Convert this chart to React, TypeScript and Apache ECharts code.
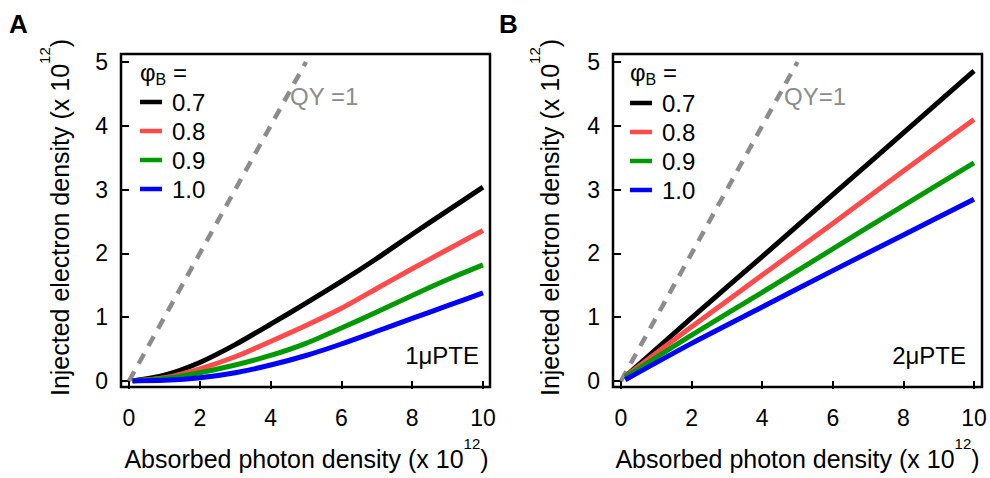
import React, { useEffect, useRef } from 'react';
import * as echarts from 'echarts';

const FONT = '"Liberation Sans", Arial, Helvetica, sans-serif';

// ---- data ----
const PHI_NAMES = ['0.7', '0.8', '0.9', '1.0'];
const COLORS = ['#000000', '#ff4b4b', '#009a00', '#0000ff'];

// Panel A (1 μPTE)
const X_A = [0.1, 1, 2, 3, 4, 5, 6, 7, 8, 9, 10];
const A_07 = [0, 0.09, 0.29, 0.57, 0.89, 1.22, 1.56, 1.92, 2.3, 2.67, 3.04];
const A_08 = [0, 0.05, 0.19, 0.38, 0.62, 0.87, 1.14, 1.45, 1.76, 2.06, 2.36];
const A_09 = [0, 0.04, 0.13, 0.25, 0.4, 0.59, 0.83, 1.08, 1.34, 1.59, 1.82];
const A_10 = [0, 0.01, 0.05, 0.13, 0.25, 0.4, 0.58, 0.78, 0.98, 1.18, 1.38];

// Panel B (2 μPTE)
const X_B = [0.12, 2, 4, 6, 8, 10];
const B_07 = [0.07, 0.99, 1.95, 2.92, 3.89, 4.86];
const B_08 = [0.07, 0.85, 1.66, 2.47, 3.29, 4.1];
const B_09 = [0.06, 0.72, 1.39, 2.07, 2.75, 3.42];
const B_10 = [0.02, 0.59, 1.16, 1.73, 2.29, 2.85];

// QY = 1 reference line
const QY_X = [0, 5];
const QY_Y = [0, 5];

// axes
const X_MIN = 0, X_MAX = 10, X_STEP = 2;
const Y_MIN = 0, Y_MAX = 5, Y_STEP = 1;

export default function App() {
  const ref = useRef<HTMLDivElement>(null);

  useEffect(() => {
    const chart = echarts.init(ref.current!, null, { renderer: 'svg' });

    const panels = [
      { xs: X_A, ys: [A_07, A_08, A_09, A_10] },
      { xs: X_B, ys: [B_07, B_08, B_09, B_10] },
    ];

    const grids: any[] = [
      { left: 121, top: 54, width: 369, height: 333, show: true, borderColor: '#000', borderWidth: 2.5, backgroundColor: 'transparent' },
      { left: 129, top: 62, width: 354, height: 319 },
      { left: 613, top: 54, width: 369, height: 333, show: true, borderColor: '#000', borderWidth: 2.5, backgroundColor: 'transparent' },
      { left: 621, top: 62, width: 353, height: 319 },
    ];

    const xAxes: any[] = [];
    const yAxes: any[] = [];
    for (let p = 0; p < 2; p++) {
      xAxes.push({ gridIndex: p * 2, type: 'value', min: 0, max: 1, show: false });
      yAxes.push({ gridIndex: p * 2, type: 'value', min: 0, max: 1, show: false });
      xAxes.push({
        gridIndex: p * 2 + 1, type: 'value', min: X_MIN, max: X_MAX, interval: X_STEP,
        position: 'bottom', offset: 6,
        axisLine: { show: false },
        axisTick: { show: true, length: 8, lineStyle: { color: '#000', width: 2 } },
        axisLabel: { margin: 19, fontSize: 23, color: '#000', fontFamily: FONT },
        splitLine: { show: false },
      });
      yAxes.push({
        gridIndex: p * 2 + 1, type: 'value', min: Y_MIN, max: Y_MAX, interval: Y_STEP,
        position: 'left', offset: 8,
        axisLine: { show: false },
        axisTick: { show: true, length: 8, lineStyle: { color: '#000', width: 2 } },
        axisLabel: { margin: 13, fontSize: 23, color: '#000', fontFamily: FONT },
        splitLine: { show: false },
      });
    }

    const series: any[] = [];
    panels.forEach((pan, p) => {
      const ai = p * 2 + 1;
      series.push({
        type: 'line', name: 'QY', xAxisIndex: ai, yAxisIndex: ai,
        data: QY_X.map((x, j) => [x, QY_Y[j]]),
        showSymbol: false, silent: true,
        lineStyle: { color: '#8c8c8c', width: 4.5, type: [11, 9], cap: 'butt' },
        color: '#8c8c8c',
      });
      pan.ys.forEach((ys, i) => {
        series.push({
          type: 'line', name: PHI_NAMES[i], xAxisIndex: ai, yAxisIndex: ai,
          data: pan.xs.map((x, j) => [x, ys[j]]),
          showSymbol: false, smooth: 0.25,
          color: COLORS[i],
          lineStyle: { color: COLORS[i], width: 5 },
        });
      });
    });

    const legendBase = {
      orient: 'vertical', padding: 0, icon: 'rect', itemWidth: 22, itemHeight: 4.5, itemGap: 5,
      selectedMode: false, data: PHI_NAMES,
      textStyle: { fontSize: 24, lineHeight: 24, color: '#000', fontFamily: FONT, padding: [0, 0, 0, 5] },
    };

    const supRich = {
      m: { fontSize: 25, lineHeight: 46, verticalAlign: 'middle', fontFamily: FONT, fill: '#000' },
      s: { fontSize: 15, lineHeight: 15, verticalAlign: 'top', fontFamily: FONT, fill: '#000' },
    };
    const phiRich = {
      m: { fontSize: 24, lineHeight: 30, verticalAlign: 'middle', fontFamily: FONT, fill: '#000' },
      b: { fontSize: 16, lineHeight: 12, verticalAlign: 'bottom', fontFamily: FONT, fill: '#000' },
    };

    const xName = '{m|Absorbed photon density (x 10}{s|12}{m|)}';
    const yName = '{m|Injected electron density (x 10}{s|12}{m|)}';
    const phiHead = '{m|φ}{b|B}{m| =}';

    const panelText = (dx: number, letter: string, qy: string, qyX: number, pte: string, pteX: number, yNameX: number, xNameX: number) => [
      { type: 'text', x: 9 + dx, y: 24, style: { text: letter, fontSize: 26, fontWeight: 'bold', fontFamily: FONT, fill: '#000', align: 'left', verticalAlign: 'middle' } },
      { type: 'text', x: yNameX, y: 217.5, rotation: Math.PI / 2, style: { text: yName, rich: supRich, align: 'center', verticalAlign: 'middle', fontFamily: FONT } },
      { type: 'text', x: xNameX, y: 459, style: { text: xName, rich: supRich, align: 'center', verticalAlign: 'middle', fontFamily: FONT } },
      { type: 'text', x: 140 + dx, y: 72, style: { text: phiHead, rich: phiRich, align: 'left', verticalAlign: 'middle', fontFamily: FONT } },
      { type: 'text', x: qyX, y: 96, style: { text: qy, fontSize: 24, fontFamily: FONT, fill: '#8c8c8c', align: 'left', verticalAlign: 'middle' } },
      { type: 'text', x: pteX, y: 355, style: { text: pte, fontSize: 24, fontFamily: FONT, fill: '#000', align: 'right', verticalAlign: 'middle' } },
    ];

    const option: any = {
      animation: false,
      backgroundColor: '#fff',
      grid: grids,
      xAxis: xAxes,
      yAxis: yAxes,
      legend: [
        { ...legendBase, left: 140, top: 90 },
        { ...legendBase, left: 630, top: 91 },
      ],
      series,
      graphic: [
        ...panelText(0, 'A', 'QY =1', 290, '1μPTE', 479, 60, 306.5),
        ...panelText(490, 'B', 'QY=1', 784, '2μPTE', 966, 550, 797.5),
      ],
    };

    chart.setOption(option);
    return () => chart.dispose();
  }, []);

  return (
    <div
      ref={ref}
      style={{ position: 'fixed', left: 0, top: 0, width: 990, height: 478, background: '#fff' }}
    />
  );
}
